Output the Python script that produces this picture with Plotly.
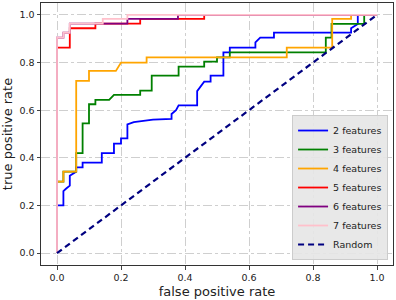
import plotly.graph_objects as go

# ROC curve points (false positive rate, true positive rate)
fpr_2 = [0, 0, 0.02, 0.02, 0.028, 0.04, 0.04, 0.06, 0.06, 0.08, 0.08, 0.14, 0.14, 0.178, 0.178, 0.2, 0.2, 0.22, 0.22,
         0.24, 0.3, 0.358, 0.358, 0.372, 0.38, 0.438, 0.438, 0.46, 0.48, 0.48, 0.52, 0.52, 0.54, 0.54, 0.62, 0.62,
         0.635, 0.678, 0.678, 0.919, 0.919, 0.94, 0.94, 1.0]
tpr_2 = [0, 0.2, 0.2, 0.26, 0.27, 0.283, 0.325, 0.342, 0.36, 0.36, 0.38, 0.38, 0.42, 0.42, 0.46, 0.46, 0.482, 0.482, 0.54,
         0.55, 0.56, 0.563, 0.584, 0.6, 0.62, 0.62, 0.68, 0.72, 0.72, 0.745, 0.745, 0.843, 0.843, 0.863, 0.863, 0.885,
         0.905, 0.905, 0.926, 0.926, 0.944, 0.962, 1.0, 1.0]

fpr_3 = [0, 0, 0.02, 0.02, 0.06, 0.06, 0.08, 0.08, 0.1, 0.1, 0.12, 0.12, 0.163, 0.178, 0.26, 0.26, 0.296, 0.296,
         0.38, 0.38, 0.46, 0.46, 0.5, 0.5, 0.54, 0.54, 0.84, 0.84, 0.858, 0.858, 0.96, 0.96, 1.0]
tpr_3 = [0, 0.3, 0.3, 0.342, 0.342, 0.42, 0.42, 0.545, 0.545, 0.625, 0.625, 0.643, 0.643, 0.664, 0.664, 0.682,
         0.682, 0.745, 0.745, 0.783, 0.783, 0.804, 0.804, 0.822, 0.822, 0.843, 0.843, 0.905, 0.905, 0.962, 0.962,
         1.0, 1.0]

fpr_4 = [0, 0, 0.02, 0.02, 0.06, 0.06, 0.1, 0.1, 0.184, 0.2, 0.28, 0.28, 0.718, 0.718, 0.86, 0.86, 0.919, 0.919, 1.0]
tpr_4 = [0, 0.3, 0.3, 0.342, 0.342, 0.723, 0.723, 0.765, 0.765, 0.8, 0.8, 0.822, 0.822, 0.863, 0.863, 0.983,
         0.983, 1.0, 1.0]

fpr_5 = [0, 0, 0.04, 0.04, 0.12, 0.12, 0.26, 0.26, 0.46, 0.46, 1.0]
tpr_5 = [0, 0.863, 0.863, 0.944, 0.944, 0.963, 0.963, 0.983, 0.983, 1.0, 1.0]

fpr_6 = [0, 0, 0.02, 0.02, 0.04, 0.04, 0.22, 0.22, 0.378, 0.378, 1.0]
tpr_6 = [0, 0.905, 0.905, 0.925, 0.925, 0.963, 0.963, 0.983, 0.983, 1.0, 1.0]

fpr_7 = [0, 0, 0.02, 0.02, 0.04, 0.04, 0.143, 0.143, 0.22, 0.22, 1.0]
tpr_7 = [0, 0.905, 0.905, 0.925, 0.925, 0.963, 0.963, 0.983, 0.983, 1.0, 1.0]

random_x = [0, 1]
random_y = [0, 1]

series_names = ["2 features", "3 features", "4 features", "5 features", "6 features", "7 features"]
series_colors = ["blue", "green", "orange", "red", "purple", "pink"]
series_fpr = [fpr_2, fpr_3, fpr_4, fpr_5, fpr_6, fpr_7]
series_tpr = [tpr_2, tpr_3, tpr_4, tpr_5, tpr_6, tpr_7]

tick_vals = [0.0, 0.2, 0.4, 0.6, 0.8, 1.0]
tick_text = ["0.0", "0.2", "0.4", "0.6", "0.8", "1.0"]

fig = go.Figure()
for name, color, xs, ys in zip(series_names, series_colors, series_fpr, series_tpr):
    fig.add_trace(go.Scatter(x=xs, y=ys, mode="lines", name=name,
                             line=dict(color=color, width=1.8)))
fig.add_trace(go.Scatter(x=random_x, y=random_y, mode="lines", name="Random",
                         line=dict(color="navy", width=2.2, dash="6px,4px")))

axis_common = dict(
    range=[-0.05, 1.05], tickvals=tick_vals, ticktext=tick_text,
    showgrid=True, gridcolor="#cfcfcf", griddash="dashdot", gridwidth=1,
    zeroline=False, showline=True, linecolor="#333", linewidth=1, mirror=True,
    ticks="outside", ticklen=3.5, tickcolor="#444", tickwidth=1,
    tickfont=dict(family="DejaVu Sans", size=9.5, color="#222"),
)

fig.update_layout(
    width=396, height=300,
    margin=dict(l=41, r=3, t=3, b=35),
    plot_bgcolor="white", paper_bgcolor="white",
    font=dict(family="DejaVu Sans", color="#222"),
    xaxis=dict(axis_common, title=dict(text="false positive rate", font=dict(size=13), standoff=4)),
    yaxis=dict(axis_common, title=dict(text="true positive rate", font=dict(size=13), standoff=6)),
    legend=dict(x=0.986, y=0.019, xanchor="right", yanchor="bottom",
                bgcolor="rgba(229,229,229,0.9)", bordercolor="#cccccc", borderwidth=1,
                font=dict(family="DejaVu Sans", size=9.5, color="#222"),
                tracegroupgap=0),
    showlegend=True,
)

fig.write_html("out.html",
               config={"displayModeBar": False},
               post_script="document.body.style.margin='0';document.body.style.overflow='hidden';")
